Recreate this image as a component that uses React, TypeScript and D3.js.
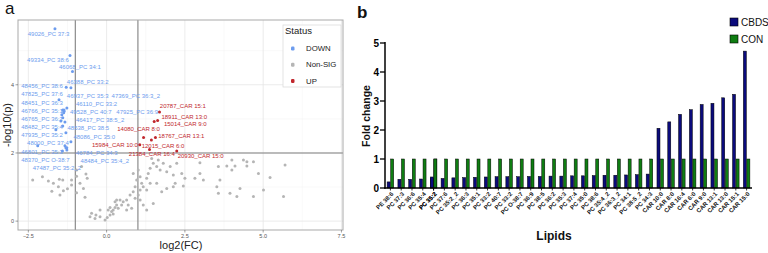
import { useEffect, useRef } from "react";
import * as d3 from "d3";

// ── Volcano plot data (log2 fold change, -log10 p) ──────────────────────
const downNames = [
  "49026_PC 37:3", "49334_PC 38:6", "46068_PC 34:1", "46388_PC 33:2", "48456_PC 38:6",
  "47825_PC 37:6", "48451_PC 36:3", "46766_PC 35:1", "46765_PC 36:2", "48482_PC 35:4",
  "47935_PC 35:2", "48000_PC 37:4", "46801_PC 35:3", "48370_PC O-38:7", "47487_PC 35:2_2",
  "46937_PC 35:3", "47369_PC 36:3_2", "46110_PC 33:2", "49528_PC 40:7", "47925_PC 36:9",
  "46417_PC 38:5_2", "48538_PC 38:5", "48086_PC 35:0", "46784_PC 34:3", "48484_PC 35:4_2",
];
const downFC = [
  -1.65, -1.17, -1.09, -1.14, -1.29, -1.52, -1.40, -1.37, -1.46, -1.62,
  -1.30, -2.20, -1.41, -1.27, -1.30, -1.36, -1.36, -1.27, -1.43, -1.40,
  -1.33, -1.40, -1.14, -1.33, -1.27,
];
const downP = [
  5.64, 4.86, 4.39, 3.91, 3.93, 3.56, 3.26, 3.18, 2.94, 2.68,
  2.59, 2.21, 2.06, 2.09, 2.15, 3.22, 3.26, 3.32, 3.12, 3.03,
  2.91, 2.79, 2.33, 2.21, 2.15,
];
// where ggrepel put each label (left edge, middle), in data units
const downLabelFC = [
  -2.52, -2.54, -1.52, -1.27, -2.73, -2.73, -2.73, -2.73, -2.73, -2.73,
  -2.73, -2.54, -2.73, -2.73, -2.36, -1.27, 0.16, -0.98, -1.17, 0.31,
  -0.98, -1.25, -1.06, -0.98, -0.83,
];
const downLabelP = [
  5.50, 4.74, 4.51, 4.07, 3.96, 3.73, 3.48, 3.24, 3.01, 2.77,
  2.53, 2.29, 2.04, 1.81, 1.57, 3.66, 3.66, 3.43, 3.19, 3.19,
  2.96, 2.73, 2.48, 2.01, 1.77,
];

const upNames = [
  "20787_CAR 15:1", "18911_CAR 13:0", "15014_CAR 9:0", "14080_CAR 8:0", "18767_CAR 13:1",
  "15984_CAR 10:0", "12015_CAR 6:0", "21384_CAR 16:4", "20930_CAR 15:0",
];
const upFC = [1.69, 1.52, 1.63, 1.18, 1.56, 1.06, 1.43, 1.37, 2.24];
const upP = [3.20, 2.92, 2.95, 2.45, 2.45, 2.24, 2.38, 2.10, 2.06];
const upLabelFC = [1.70, 1.75, 1.83, 0.34, 1.65, -0.47, 1.12, 0.71, 2.27];
const upLabelP = [3.38, 3.05, 2.84, 2.70, 2.49, 2.24, 2.22, 1.96, 1.91];

const nsFC = [
  -2.36, -1.86, -1.70, -1.51, -1.40, -1.54, -1.38, -1.12, -0.96, -0.80, -0.66, -0.62, -0.96, -1.12,
  -0.85, -0.96, -0.69, -0.74, -1.49, -1.75, -0.48, -0.34, -0.21, -0.37, -0.05, 0.02, 0.11, 0.16,
  0.21, 0.27, 0.32, 0.37, 0.27, 0.43, 0.48, 0.11, 0.05, 0.21, 0.32, 0.53, 0.64, 0.69, 0.80, 0.75,
  0.85, 0.91, 0.96, 0.85, 1.01, 1.07, 1.12, 1.17, 1.07, 1.01, 0.91, 1.28, 1.33, 1.39, 1.49, 1.44,
  1.60, 1.65, 1.71, 1.81, 1.92, 2.03, 2.13, 2.24, 2.40, 2.50, 1.07, 1.17, 1.28, 1.49, 1.76, 1.60,
  2.13, 1.28, 1.39, 0.64, -0.53, -0.21, 3.57, 3.84, 4.00, 4.10, 4.48, 4.69, 4.48, 4.85, 5.22, 5.70,
  3.62, 4.26, 5.01, 3.94, 3.52, 2.98, 2.82, 3.09, 2.45, 1.92, 2.19, 3.57, 4.16, 4.69, 5.65, 2.98,
  4.00, 4.37, -2.05, -1.25,
];
const nsP = [
  1.21, 1.18, 1.11, 1.23, 1.21, 1.01, 0.89, 1.21, 1.50, 1.60, 1.38, 1.26, 1.32, 1.06,
  1.11, 0.83, 0.70, 0.96, 0.77, 0.88, 0.23, 0.18, 0.13, 0.08, 0.03, 0.11, 0.18, 0.28,
  0.33, 0.40, 0.47, 0.38, 0.57, 0.62, 0.47, 0.40, 0.33, 0.21, 0.62, 0.57, 0.62, 0.47, 0.38, 0.77,
  0.86, 1.01, 1.21, 1.40, 1.50, 1.30, 1.11, 1.01, 0.91, 0.77, 0.67, 1.26, 1.40, 1.55, 1.70, 1.84,
  1.60, 1.79, 1.50, 1.70, 1.45, 1.60, 1.35, 1.70, 1.40, 1.26, 0.62, 0.47, 0.33, 0.52, 0.86, 1.11,
  1.01, 0.91, 1.11, 0.33, 0.13, 0.33, 1.60, 1.62, 1.50, 1.62, 1.74, 1.74, 1.62, 1.40, 1.28, 1.65,
  1.21, 0.96, 0.91, 0.82, 1.01, 1.40, 1.26, 1.21, 1.03, 0.96, 1.11, 0.82, 0.72, 0.72, 0.72, 1.71,
  1.79, 1.79, 1.30, 0.95,
];

const volcanoXTicks = [-2.5, 0, 2.5, 5, 7.5];
const volcanoYTicks = [0, 2, 4];
const statusLevels = ["DOWN", "Non-SIG", "UP"];

// ── Fold change bar data ────────────────────────────────────────────────
const lipids = [
  "PE 38:6", "PC 37:3", "PC 36:6", "PC 35:4", "PC 35:2", "PC 37:6", "PC 35:2_2", "PC 36:3",
  "PC 35:1", "PC 33:2", "PC 35:2", "PC 40:7", "PC 33:2 ", "PC O-38:7", "PC 36:9", "PC 38:5",
  "PC 36:2", "PC 35:3", "PC 37:4", "PC 35:0", "PC 38:6", "PC 35:4_2", "PC 36:3_2", "PC 34:1",
  "PC 38:5_2", "PC 34:3", "CAR 10:0", "CAR 8:0", "CAR 16:4", "CAR 6:0", "CAR 9:0", "CAR 13:1",
  "CAR 13:0", "CAR 15:1", "CAR 15:0",
];
const cbds = [
  0.21, 0.30, 0.30, 0.31, 0.32, 0.33, 0.35, 0.36, 0.37, 0.38, 0.38, 0.39, 0.39, 0.39, 0.40, 0.40,
  0.41, 0.41, 0.42, 0.42, 0.43, 0.44, 0.44, 0.45, 0.46, 0.48, 2.06, 2.28, 2.54, 2.70, 2.88, 2.92,
  3.11, 3.23, 4.72,
];
const con = lipids.map(() => 1);
const groups = ["CBDS", "CON"];
const foldTicks = [0, 1, 2, 3, 4, 5];

const FONT = "'Liberation Sans', Arial, sans-serif";
const BLUE = "#6d9cee";
const RED = "#c1272d";
const GREY = "#b5b5b5";

export default function App() {
  const svgRef = useRef<SVGSVGElement>(null);

  useEffect(() => {
    if (!svgRef.current) return;
    const svg = d3.select(svgRef.current);
    svg.selectAll("*").remove();

    // ── Panel a: volcano ─────────────────────────────────────────────────
    const x = d3.scaleLinear().domain([-2.83, 7.55]).range([18, 343]);
    const y = d3.scaleLinear().domain([-0.26, 5.9]).range([230, 20]);
    const a = svg.append("g");

    a.append("text").attr("x", 5).attr("y", 14).attr("font-size", 17)
      .attr("font-family", FONT).attr("fill", "#111").text("a");

    a.append("rect").attr("x", 18).attr("y", 20).attr("width", 325).attr("height", 210).attr("fill", "#fff");

    // grid
    [-1.25, 1.25, 3.75, 6.25].forEach((v) =>
      a.append("line").attr("x1", x(v)).attr("x2", x(v)).attr("y1", 20).attr("y2", 230)
        .attr("stroke", "#f3f3f3").attr("stroke-width", 0.5));
    [1, 3, 5].forEach((v) =>
      a.append("line").attr("x1", 18).attr("x2", 343).attr("y1", y(v)).attr("y2", y(v))
        .attr("stroke", "#f3f3f3").attr("stroke-width", 0.5));
    volcanoXTicks.forEach((v) =>
      a.append("line").attr("x1", x(v)).attr("x2", x(v)).attr("y1", 20).attr("y2", 230)
        .attr("stroke", "#e6e6e6").attr("stroke-width", 0.8));
    volcanoYTicks.forEach((v) =>
      a.append("line").attr("x1", 18).attr("x2", 343).attr("y1", y(v)).attr("y2", y(v))
        .attr("stroke", "#e6e6e6").attr("stroke-width", 0.8));

    // thresholds
    [-1, 1].forEach((v) =>
      a.append("line").attr("x1", x(v)).attr("x2", x(v)).attr("y1", 20).attr("y2", 230)
        .attr("stroke", "#808080").attr("stroke-width", 1.1));
    a.append("line").attr("x1", 18).attr("x2", 343).attr("y1", y(2)).attr("y2", y(2))
      .attr("stroke", "#808080").attr("stroke-width", 1.1);

    // points
    nsFC.forEach((v, i) =>
      a.append("circle").attr("cx", x(v)).attr("cy", y(nsP[i])).attr("r", 1.5).attr("fill", GREY));
    downFC.forEach((v, i) =>
      a.append("circle").attr("cx", x(v)).attr("cy", y(downP[i])).attr("r", 1.5).attr("fill", BLUE));
    upFC.forEach((v, i) =>
      a.append("circle").attr("cx", x(v)).attr("cy", y(upP[i])).attr("r", 1.5).attr("fill", RED));

    // repelled labels with segments
    const drawLabels = (names: string[], fc: number[], p: number[], lfc: number[], lp: number[], color: string) => {
      names.forEach((name, i) => {
        const t = a.append("text").attr("x", x(lfc[i])).attr("y", y(lp[i])).attr("dy", "0.35em")
          .attr("font-size", 6).attr("font-family", FONT).attr("fill", color).text(name);
        const w = (t.node() as SVGTextElement).getComputedTextLength();
        const bx0 = x(lfc[i]), bx1 = bx0 + w, by0 = y(lp[i]) - 3, by1 = y(lp[i]) + 3;
        const px = x(fc[i]), py = y(p[i]);
        const cx = Math.max(bx0, Math.min(bx1, px));
        const cy = Math.max(by0, Math.min(by1, py));
        if (Math.hypot(cx - px, cy - py) > 3) {
          a.insert("line", "text").attr("x1", px).attr("y1", py).attr("x2", cx).attr("y2", cy)
            .attr("stroke", color).attr("stroke-width", 0.8);
        }
      });
    };
    drawLabels(downNames, downFC, downP, downLabelFC, downLabelP, BLUE);
    drawLabels(upNames, upFC, upP, upLabelFC, upLabelP, RED);

    a.append("rect").attr("x", 18).attr("y", 20).attr("width", 325).attr("height", 210)
      .attr("fill", "none").attr("stroke", "#a9a9a9").attr("stroke-width", 1);

    // axes
    volcanoXTicks.forEach((v) => {
      a.append("line").attr("x1", x(v)).attr("x2", x(v)).attr("y1", 230).attr("y2", 232.5).attr("stroke", "#444").attr("stroke-width", 0.5);
      a.append("text").attr("x", x(v)).attr("y", 238).attr("text-anchor", "middle").attr("font-size", 5.5)
        .attr("font-family", FONT).attr("fill", "#555").text(d3.format(".1f")(v));
    });
    volcanoYTicks.forEach((v) => {
      a.append("line").attr("x1", 15.5).attr("x2", 18).attr("y1", y(v)).attr("y2", y(v)).attr("stroke", "#444").attr("stroke-width", 0.5);
      a.append("text").attr("x", 14).attr("y", y(v)).attr("dy", "0.35em").attr("text-anchor", "end").attr("font-size", 5.5)
        .attr("font-family", FONT).attr("fill", "#555").text(v);
    });
    a.append("text").attr("x", 181).attr("y", 249).attr("text-anchor", "middle").attr("font-size", 11)
      .attr("font-family", FONT).attr("fill", "#222").text("log2(FC)");
    a.append("text").attr("transform", "translate(11,125) rotate(-90)").attr("text-anchor", "middle")
      .attr("font-size", 11).attr("font-family", FONT).attr("fill", "#222").text("-log10(p)");

    // legend
    const lg = a.append("g");
    lg.append("rect").attr("x", 283).attr("y", 25).attr("width", 58).attr("height", 62)
      .attr("fill", "#fff").attr("stroke", "#dcdcdc").attr("stroke-width", 0.8);
    lg.append("text").attr("x", 285).attr("y", 33.5).attr("font-size", 9.5).attr("font-family", FONT)
      .attr("fill", "#222").text("Status");
    const lgColor = d3.scaleOrdinal<string, string>().domain(statusLevels).range([BLUE, GREY, RED]);
    statusLevels.forEach((s, i) => {
      const cy = 48.5 + i * 16.2;
      lg.append("rect").attr("x", 291).attr("y", cy - 2).attr("width", 3.5).attr("height", 4)
        .attr("rx", 1.2).attr("fill", lgColor(s));
      lg.append("text").attr("x", 306).attr("y", cy).attr("dy", "0.35em").attr("font-size", 7.8)
        .attr("font-family", FONT).attr("fill", "#222").text(s);
    });

    // ── Panel b: fold change bars ────────────────────────────────────────
    const b = svg.append("g");
    b.append("text").attr("x", 357).attr("y", 18).attr("font-size", 17).attr("font-weight", "bold")
      .attr("font-family", FONT).attr("fill", "#111").text("b");

    const xb = d3.scaleBand().domain(lipids).range([385, 752]);
    const xg = d3.scaleBand().domain(groups).range([0, xb.bandwidth()]).paddingInner(0.15).paddingOuter(0.6);
    const yb = d3.scaleLinear().domain([0, 5]).range([188, 43]);
    const fill = d3.scaleOrdinal<string, string>().domain(groups).range(["#0b0b7c", "#0f7d12"]);

    lipids.forEach((l, i) => {
      [cbds[i], con[i]].forEach((v, j) => {
        b.append("rect").attr("x", (xb(l) ?? 0) + (xg(groups[j]) ?? 0)).attr("y", yb(v))
          .attr("width", xg.bandwidth()).attr("height", yb(0) - yb(v))
          .attr("fill", fill(groups[j])).attr("stroke", "#000").attr("stroke-width", 0.5);
      });
    });

    // y axis
    b.append("line").attr("x1", 385).attr("x2", 385).attr("y1", yb(5) - 1).attr("y2", yb(0) + 0.75)
      .attr("stroke", "#000").attr("stroke-width", 1.5);
    foldTicks.forEach((v) => {
      b.append("line").attr("x1", 380).attr("x2", 385).attr("y1", yb(v)).attr("y2", yb(v)).attr("stroke", "#000").attr("stroke-width", 1.3);
      b.append("text").attr("x", 379).attr("y", yb(v)).attr("dy", "0.36em").attr("text-anchor", "end")
        .attr("font-size", 10).attr("font-weight", "bold").attr("font-family", FONT).attr("fill", "#000").text(v);
    });
    // x axis
    b.append("line").attr("x1", 384.3).attr("x2", 752).attr("y1", yb(0)).attr("y2", yb(0))
      .attr("stroke", "#000").attr("stroke-width", 1.5);
    lipids.forEach((l) => {
      const cx = (xb(l) ?? 0) + xb.bandwidth() / 2;
      b.append("line").attr("x1", cx).attr("x2", cx).attr("y1", yb(0)).attr("y2", yb(0) + 2.5).attr("stroke", "#000").attr("stroke-width", 0.8);
      b.append("text").attr("transform", `translate(${cx + 2},${yb(0) + 5}) rotate(-45)`)
        .attr("text-anchor", "end").attr("dy", "0.35em").attr("font-size", 6).attr("font-weight", "bold")
        .attr("font-family", FONT).attr("fill", "#111").text(l.trim());
    });
    b.append("text").attr("transform", "translate(370,116) rotate(-90)").attr("text-anchor", "middle")
      .attr("font-size", 10.5).attr("font-weight", "bold").attr("font-family", FONT).attr("fill", "#111").text("Fold change");
    b.append("text").attr("x", 554).attr("y", 240).attr("text-anchor", "middle").attr("font-size", 12)
      .attr("font-weight", "bold").attr("font-family", FONT).attr("fill", "#111").text("Lipids");

    // legend
    groups.forEach((g, i) => {
      const ly = 18 + i * 17;
      b.append("rect").attr("x", 730).attr("y", ly).attr("width", 8).attr("height", 8)
        .attr("fill", fill(g)).attr("stroke", "#000").attr("stroke-width", 0.6);
      b.append("text").attr("x", 741).attr("y", ly + 4).attr("dy", "0.36em").attr("font-size", 10)
        .attr("font-family", FONT).attr("fill", "#111").text(g);
    });
  }, []);

  return (
    <svg ref={svgRef} width={768} height={253}
      style={{ position: "absolute", left: 0, top: 0, background: "#fff" }} />
  );
}
